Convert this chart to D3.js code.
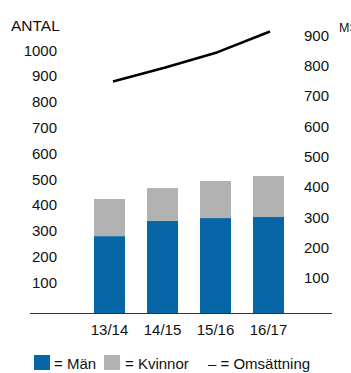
<!DOCTYPE html>
<html>
<head>
<meta charset="utf-8">
<script src="https://cdn.jsdelivr.net/npm/d3@7"></script>
<style>
  html, body { margin: 0; padding: 0; background: #fff; overflow: hidden; }
  svg { display: block; font-family: "Liberation Sans", Arial, Helvetica, sans-serif; }
</style>
</head>
<body>
<svg id="chart" width="351" height="373"></svg>
<script>
// Räkenskapsår
const years = ["13/14", "14/15", "15/16", "16/17"];
// Antal anställda
const men = [298, 357, 368, 372];
const women = [144, 127, 144, 159];
// Omsättning, MSEK
const revenue = [763, 809, 860, 928];
// Axelmarkeringar
const leftTicks = [100, 200, 300, 400, 500, 600, 700, 800, 900, 1000];
const rightTicks = [100, 200, 300, 400, 500, 600, 700, 800, 900];

const blue = "#0767a6";
const grey = "#b2b2b2";
const fontSize = 15;

const svg = d3.select("#chart");

const x = d3.scaleBand()
  .domain(years)
  .range([83, 295])
  .paddingInner(0.415)
  .paddingOuter(0.2075);

const xLine = d3.scalePoint()
  .domain(years)
  .range([113, 270]);

const yLeft = d3.scaleLinear().domain([0, 1000]).range([313, 55]);
const yRight = d3.scaleLinear().domain([0, 900]).range([313, 40]);

// Staplar: män i botten, kvinnor ovanpå
const stackData = years.map((y, i) => ({ year: y, men: men[i], women: women[i] }));
const series = d3.stack().keys(["men", "women"])(stackData);
const colors = { men: blue, women: grey };

svg.append("g")
  .selectAll("g")
  .data(series)
  .join("g")
  .attr("fill", d => colors[d.key])
  .selectAll("rect")
  .data(d => d)
  .join("rect")
  .attr("x", d => x(d.data.year))
  .attr("width", x.bandwidth())
  .attr("y", d => yLeft(d[1]))
  .attr("height", d => yLeft(d[0]) - yLeft(d[1]));

const fmt = d3.format("d");

// Vänster axel (antal)
const leftAxis = d3.axisLeft(yLeft).tickValues(leftTicks).tickFormat(fmt).tickSize(0).tickPadding(0);
const gl = svg.append("g").attr("transform", "translate(57,0)").call(leftAxis);
gl.select(".domain").remove();
gl.selectAll("text")
  .attr("font-size", fontSize)
  .attr("font-family", "Liberation Sans, Arial, sans-serif")
  .attr("fill", "#111")
  .attr("dy", 0);

// Höger axel (MSEK)
const rightAxis = d3.axisRight(yRight).tickValues(rightTicks).tickFormat(fmt).tickSize(0).tickPadding(0);
const gr = svg.append("g").attr("transform", "translate(304,0)").call(rightAxis);
gr.select(".domain").remove();
gr.selectAll("text")
  .attr("font-size", fontSize)
  .attr("font-family", "Liberation Sans, Arial, sans-serif")
  .attr("fill", "#111")
  .attr("dy", 0);

// Kategoriaxel
const bottomAxis = d3.axisBottom(x).tickSize(0).tickPadding(0);
const gb = svg.append("g").attr("transform", "translate(0,313)").call(bottomAxis);
gb.select(".domain").remove();
gb.selectAll("text")
  .attr("font-size", fontSize)
  .attr("font-family", "Liberation Sans, Arial, sans-serif")
  .attr("fill", "#111")
  .attr("y", 22)
  .attr("dy", 0);

svg.append("line")
  .attr("x1", 30).attr("x2", 332)
  .attr("y1", 313.5).attr("y2", 313.5)
  .attr("stroke", "#333")
  .attr("stroke-width", 1.2);

// Omsättningslinje
const line = d3.line()
  .x((d, i) => xLine(years[i]))
  .y(d => yRight(d));

svg.append("path")
  .datum(revenue)
  .attr("fill", "none")
  .attr("stroke", "#000")
  .attr("stroke-width", 2.6)
  .attr("stroke-linejoin", "round")
  .attr("d", line);

// Axelrubriker
svg.append("text")
  .attr("x", 11).attr("y", 31)
  .attr("font-size", 15.5)
  .attr("fill", "#111")
  .text("ANTAL");

svg.append("text")
  .attr("x", 339).attr("y", 32)
  .attr("font-size", 12.5)
  .attr("fill", "#111")
  .text("MSEK");

// Teckenförklaring
const legend = svg.append("g").attr("font-size", fontSize).attr("fill", "#111");
legend.append("rect").attr("x", 34).attr("y", 355).attr("width", 16).attr("height", 15).attr("fill", blue);
legend.append("text").attr("x", 54).attr("y", 369).text("= Män");
legend.append("rect").attr("x", 104).attr("y", 355).attr("width", 16).attr("height", 15).attr("fill", grey);
legend.append("text").attr("x", 125).attr("y", 369).text("= Kvinnor");
legend.append("text").attr("x", 208).attr("y", 369).text("– = Omsättning");
</script>
</body>
</html>
